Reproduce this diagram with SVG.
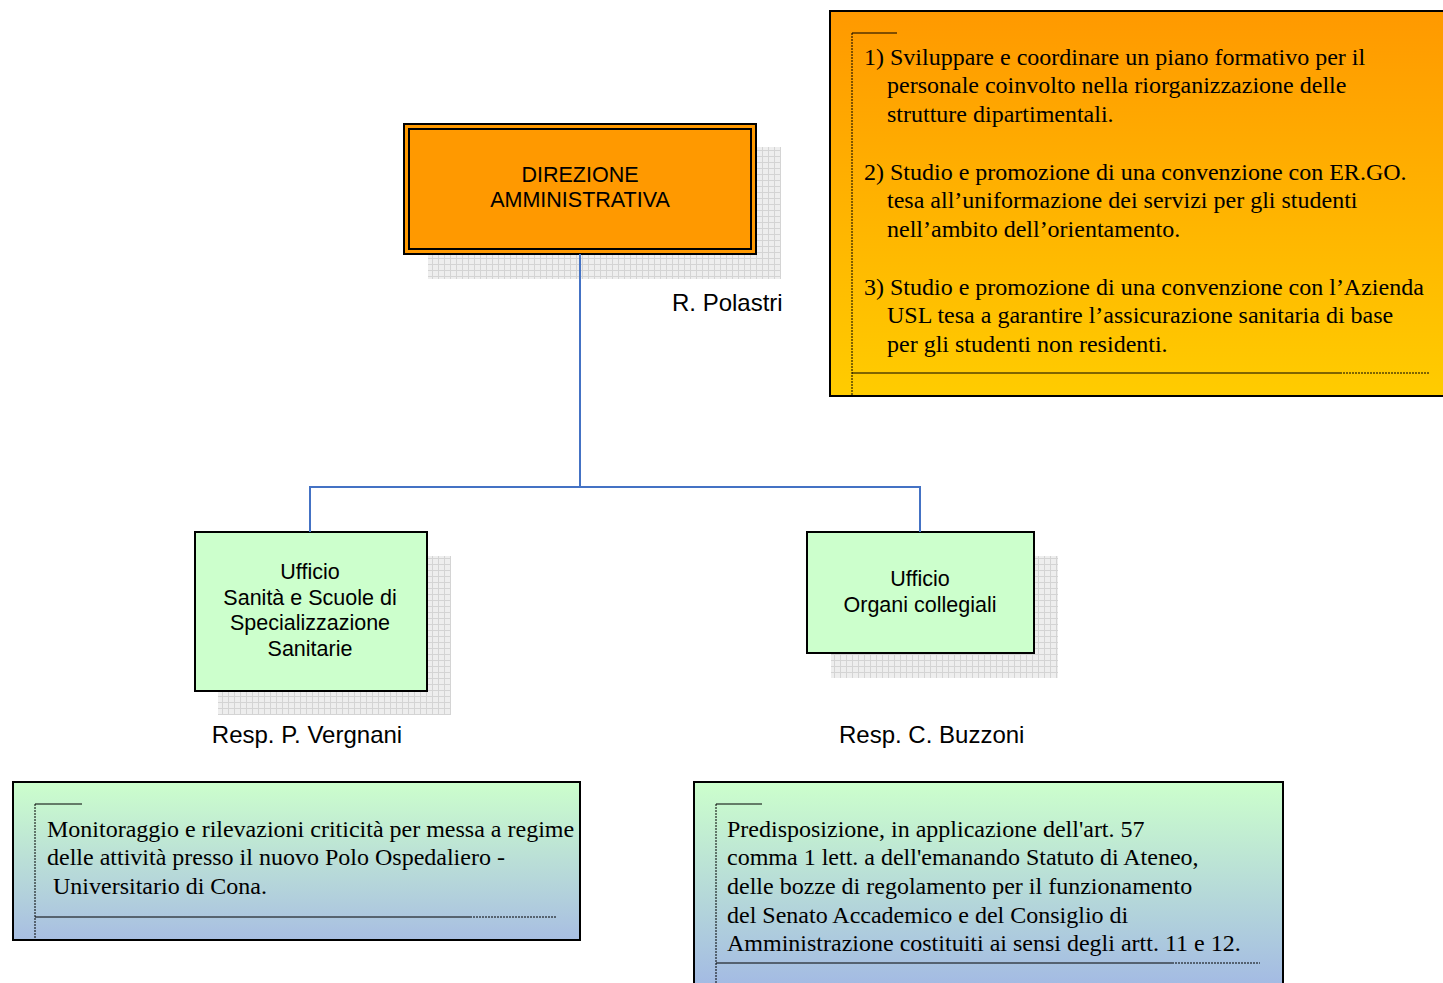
<svg xmlns="http://www.w3.org/2000/svg" width="1443" height="983" viewBox="0 0 1443 983">
<defs>
<pattern id="grid" width="6" height="6" patternUnits="userSpaceOnUse">
<rect width="6" height="6" fill="#eeeeee"/>
<path d="M0 0.5H6M0.5 0V6" stroke="#d4d4d4" stroke-width="1" fill="none"/>
</pattern>
<linearGradient id="og" x1="0" y1="0" x2="0" y2="1">
<stop offset="0" stop-color="#FF9900"/>
<stop offset="1" stop-color="#FFCC00"/>
</linearGradient>
<linearGradient id="gb" x1="0" y1="0" x2="0" y2="1">
<stop offset="0" stop-color="#CCFFCC"/>
<stop offset="1" stop-color="#A8BEE2"/>
</linearGradient>
<linearGradient id="gb2" x1="0" y1="0" x2="0" y2="1">
<stop offset="0" stop-color="#CCFFCC"/>
<stop offset="1" stop-color="#A2B8E4"/>
</linearGradient>
</defs>
<style>
.shadow{fill:url(#grid)}
.box{stroke:#000;stroke-width:2}
.sans{font-family:"Liberation Sans",Arial,sans-serif;font-size:21.5px;fill:#000}
.label{font-family:"Liberation Sans",Arial,sans-serif;font-size:24px;fill:#000}
.serif{font-family:"Liberation Serif","Times New Roman",serif;font-size:24px;fill:#000}
.mid{text-anchor:middle}
.solid{stroke:#000;stroke-width:1;fill:none}
.dash{stroke:#000;stroke-width:1;stroke-dasharray:2 1;fill:none}
.conn{stroke:#4472C4;stroke-width:2;fill:none}
</style>
<g id="direzione">
<rect class="shadow" x="428" y="147" width="353" height="132"/>
<rect class="box" x="404" y="124" width="352" height="130" fill="#FF9900"/>
<rect x="409" y="129" width="342" height="120" fill="none" stroke="#000" stroke-width="2"/>
<text class="sans mid" x="580" y="182">DIREZIONE</text>
<text class="sans mid" x="580" y="207">AMMINISTRATIVA</text>
<text class="label" x="672" y="311">R. Polastri</text>
</g>
<g id="obiettivi">
<rect class="box" x="830" y="11" width="620" height="385" fill="url(#og)"/>
<path class="solid" d="M852 33H897M852 373H1340"/>
<path class="dash" d="M852 33V396M1340 373H1430"/>
<text class="serif" x="864" y="65">1) Sviluppare e coordinare un piano formativo per il</text>
<text class="serif" x="887" y="93">personale coinvolto nella riorganizzazione delle</text>
<text class="serif" x="887" y="122">strutture dipartimentali.</text>
<text class="serif" x="864" y="180">2) Studio e promozione di una convenzione con ER.GO.</text>
<text class="serif" x="887" y="208">tesa all’uniformazione dei servizi per gli studenti</text>
<text class="serif" x="887" y="237">nell’ambito dell’orientamento.</text>
<text class="serif" x="864" y="295">3) Studio e promozione di una convenzione con l’Azienda</text>
<text class="serif" x="887" y="323">USL tesa a garantire l’assicurazione sanitaria di base</text>
<text class="serif" x="887" y="352">per gli studenti non residenti.</text>
</g>
<g id="ufficio-sanita">
<rect class="shadow" x="218" y="556" width="233" height="159"/>
<rect class="box" x="195" y="532" width="232" height="159" fill="#CCFFCC"/>
<text class="sans mid" x="310" y="579">Ufficio</text>
<text class="sans mid" x="310" y="605">Sanità e Scuole di</text>
<text class="sans mid" x="310" y="630">Specializzazione</text>
<text class="sans mid" x="310" y="656">Sanitarie</text>
<text class="label mid" x="307" y="743">Resp. P. Vergnani</text>
</g>
<g id="ufficio-organi">
<rect class="shadow" x="831" y="556" width="227" height="122"/>
<rect class="box" x="807" y="532" width="227" height="121" fill="#CCFFCC"/>
<text class="sans mid" x="920" y="586">Ufficio</text>
<text class="sans mid" x="920" y="612">Organi collegiali</text>
<text class="label" x="839" y="743">Resp. C. Buzzoni</text>
</g>
<g id="nota-sanita">
<rect class="box" x="13" y="782" width="567" height="158" fill="url(#gb)"/>
<path class="solid" d="M35 804H82M35 917H470"/>
<path class="dash" d="M35 804V940M470 917H557"/>
<text class="serif" x="47" y="837">Monitoraggio e rilevazioni criticità per messa a regime</text>
<text class="serif" x="47" y="865">delle attività presso il nuovo Polo Ospedaliero -</text>
<text class="serif" x="53" y="894">Universitario di Cona.</text>
</g>
<g id="nota-organi">
<rect class="box" x="694" y="782" width="589" height="210" fill="url(#gb2)"/>
<path class="solid" d="M716 804H762M716 963H1172"/>
<path class="dash" d="M716 804V983M1172 963H1260"/>
<text class="serif" x="727" y="837">Predisposizione, in applicazione dell'art. 57</text>
<text class="serif" x="727" y="865">comma 1 lett. a dell'emanando Statuto di Ateneo,</text>
<text class="serif" x="727" y="894">delle bozze di regolamento per il funzionamento</text>
<text class="serif" x="727" y="923">del Senato Accademico e del Consiglio di</text>
<text class="serif" x="727" y="951">Amministrazione costituiti ai sensi degli artt. 11 e 12.</text>
</g>
<g id="connectors">
<path class="conn" d="M580 254V487M310 532V487H920V532"/>
</g>
</svg>
